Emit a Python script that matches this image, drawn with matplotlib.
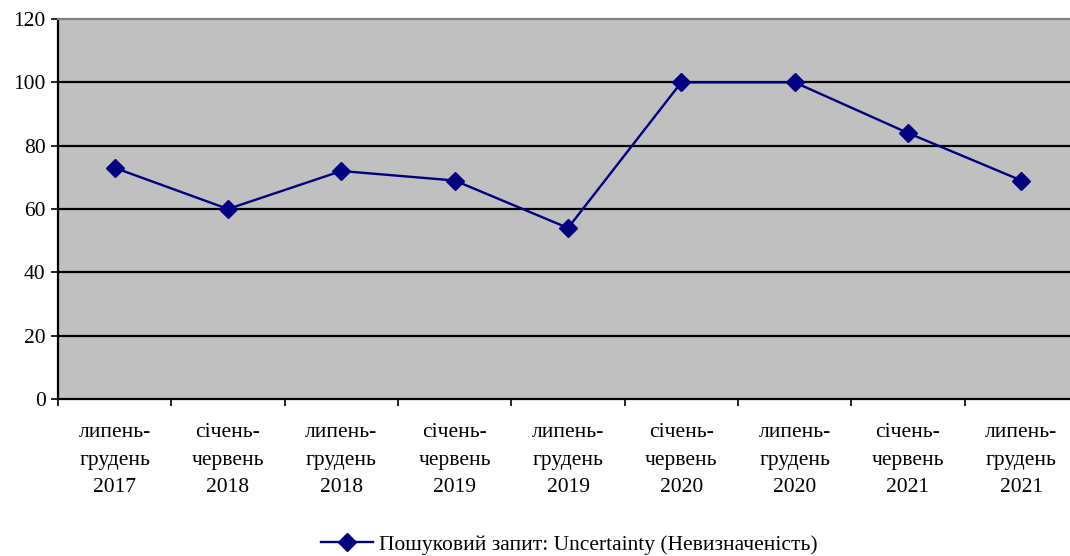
import matplotlib.pyplot as plt
from matplotlib.lines import Line2D

plt.rcParams['font.family'] = ['Liberation Serif', 'DejaVu Serif']

# data
periods = ['липень-\nгрудень\n2017', 'січень-\nчервень\n2018', 'липень-\nгрудень\n2018',
           'січень-\nчервень\n2019', 'липень-\nгрудень\n2019', 'січень-\nчервень\n2020',
           'липень-\nгрудень\n2020', 'січень-\nчервень\n2021', 'липень-\nгрудень\n2021']
values = [73, 60, 72, 69, 54, 100, 100, 84, 69]
y_ticks = [0, 20, 40, 60, 80, 100, 120]
series_name = 'Пошуковий запит: Uncertainty (Невизначеність)'

navy = '#000080'

fig = plt.figure(figsize=(10.7, 5.56), dpi=100)
ax = fig.add_axes([58 / 1070, 157 / 556, 1020 / 1070, 380 / 556])
ax.set_facecolor('#c0c0c0')

x = list(range(len(values)))
ax.plot(x, values, color=navy, lw=1.7, marker='D', markersize=9.5, zorder=3)

ax.set_xlim(-0.5, len(values) - 0.5)
ax.set_ylim(0, 120)
ax.set_yticks(y_ticks)
ax.tick_params(axis='y', labelsize=15.5, length=5, width=1.2, direction='out', pad=4)
for yv in y_ticks[1:-1]:
    ax.axhline(yv, color='black', lw=1.6, zorder=1)

# ticks on category boundaries, labels in the middle
ax.set_xticks([i - 0.5 for i in range(len(values) + 1)])
ax.set_xticklabels([])
ax.tick_params(axis='x', length=5, width=1.2, direction='out')
for i, lab in enumerate(periods):
    ax.text(i, -7.6, lab, ha='center', va='top', fontsize=15.5, linespacing=1.62,
            transform=ax.transData)

for side in ['left', 'bottom']:
    ax.spines[side].set_color('black')
    ax.spines[side].set_linewidth(1.6)
ax.spines['top'].set_color('#808080')
ax.spines['top'].set_linewidth(1.6)
ax.spines['right'].set_visible(False)

handle = Line2D([], [], color=navy, lw=1.7, marker='D', markersize=9.5)
fig.legend([handle], [series_name], loc='center', bbox_to_anchor=(0.532, 0.02),
           frameon=False, fontsize=15.5, handlelength=2.4, handletextpad=0.3)

fig.savefig('out.png', dpi=100)
